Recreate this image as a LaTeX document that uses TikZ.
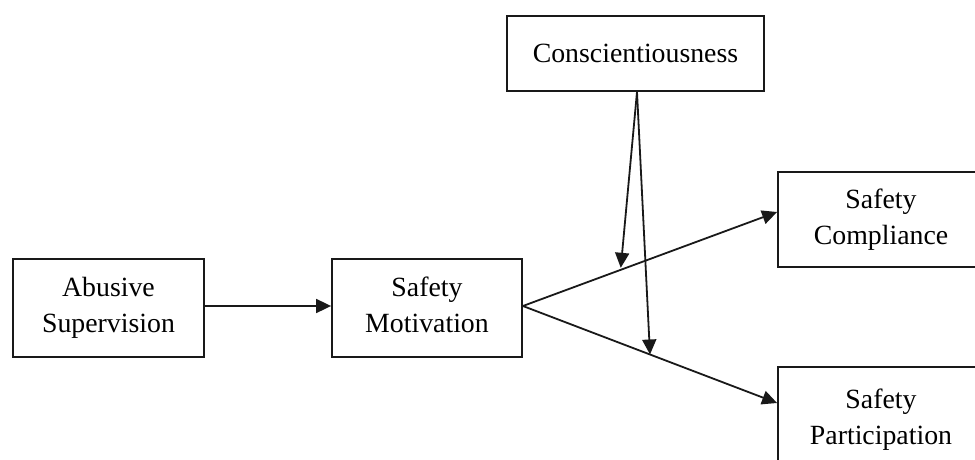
\documentclass[tikz,border=0pt]{standalone}
\usepackage{fontspec}
\setmainfont{Liberation Serif}
\usetikzlibrary{arrows.meta,calc}
\begin{document}
\begin{tikzpicture}[x=1pt,y=-1pt,
  box/.style={draw=black!90, line width=1.8pt, align=center, inner sep=0pt,
    font=\fontsize{27.8}{36}\selectfont},
  conn/.style={draw=black!90, line width=1.8pt, -{Triangle[length=15pt,width=14pt]}}]
\useasboundingbox (0,0) rectangle (975,460);
\clip (0,0) rectangle (975,460);
\node[box, minimum width=191pt, minimum height=98pt] (AS) at (108.5,308) {Abusive\\Supervision};
\node[box, minimum width=190pt, minimum height=98pt] (SM) at (427,308) {Safety\\Motivation\vphantom{p}};
\node[box, minimum width=257pt, minimum height=75pt] (CO) at (635.5,53.5) {Conscientiousness};
\node[box, minimum width=206pt, minimum height=95pt] (SC) at (881,219.5) {Safety\\Compliance};
\node[box, minimum width=206pt, minimum height=106pt] (SP) at (881,420) {Safety\\Participation};
\coordinate (apex) at ($(SM.east)+(0,-2)$);
\coordinate (scin) at ($(SC.west)+(0,-7.5)$);
\coordinate (spin) at ($(SP.west)+(0,-17)$);
\coordinate (cout) at ($(CO.south)+(1.5,0)$);
\draw[conn] (AS.east |- apex) -- (SM.west |- apex);
\draw[conn] (apex) -- (scin);
\draw[conn] (apex) -- (spin);
\path (apex) -- (scin) coordinate[pos=0.385] (m1);
\path (apex) -- (spin) coordinate[pos=0.5] (m2);
\draw[conn] (cout) -- ($(m1)+(0,-2)$);
\draw[conn] (cout) -- (m2);
\end{tikzpicture}
\end{document}
